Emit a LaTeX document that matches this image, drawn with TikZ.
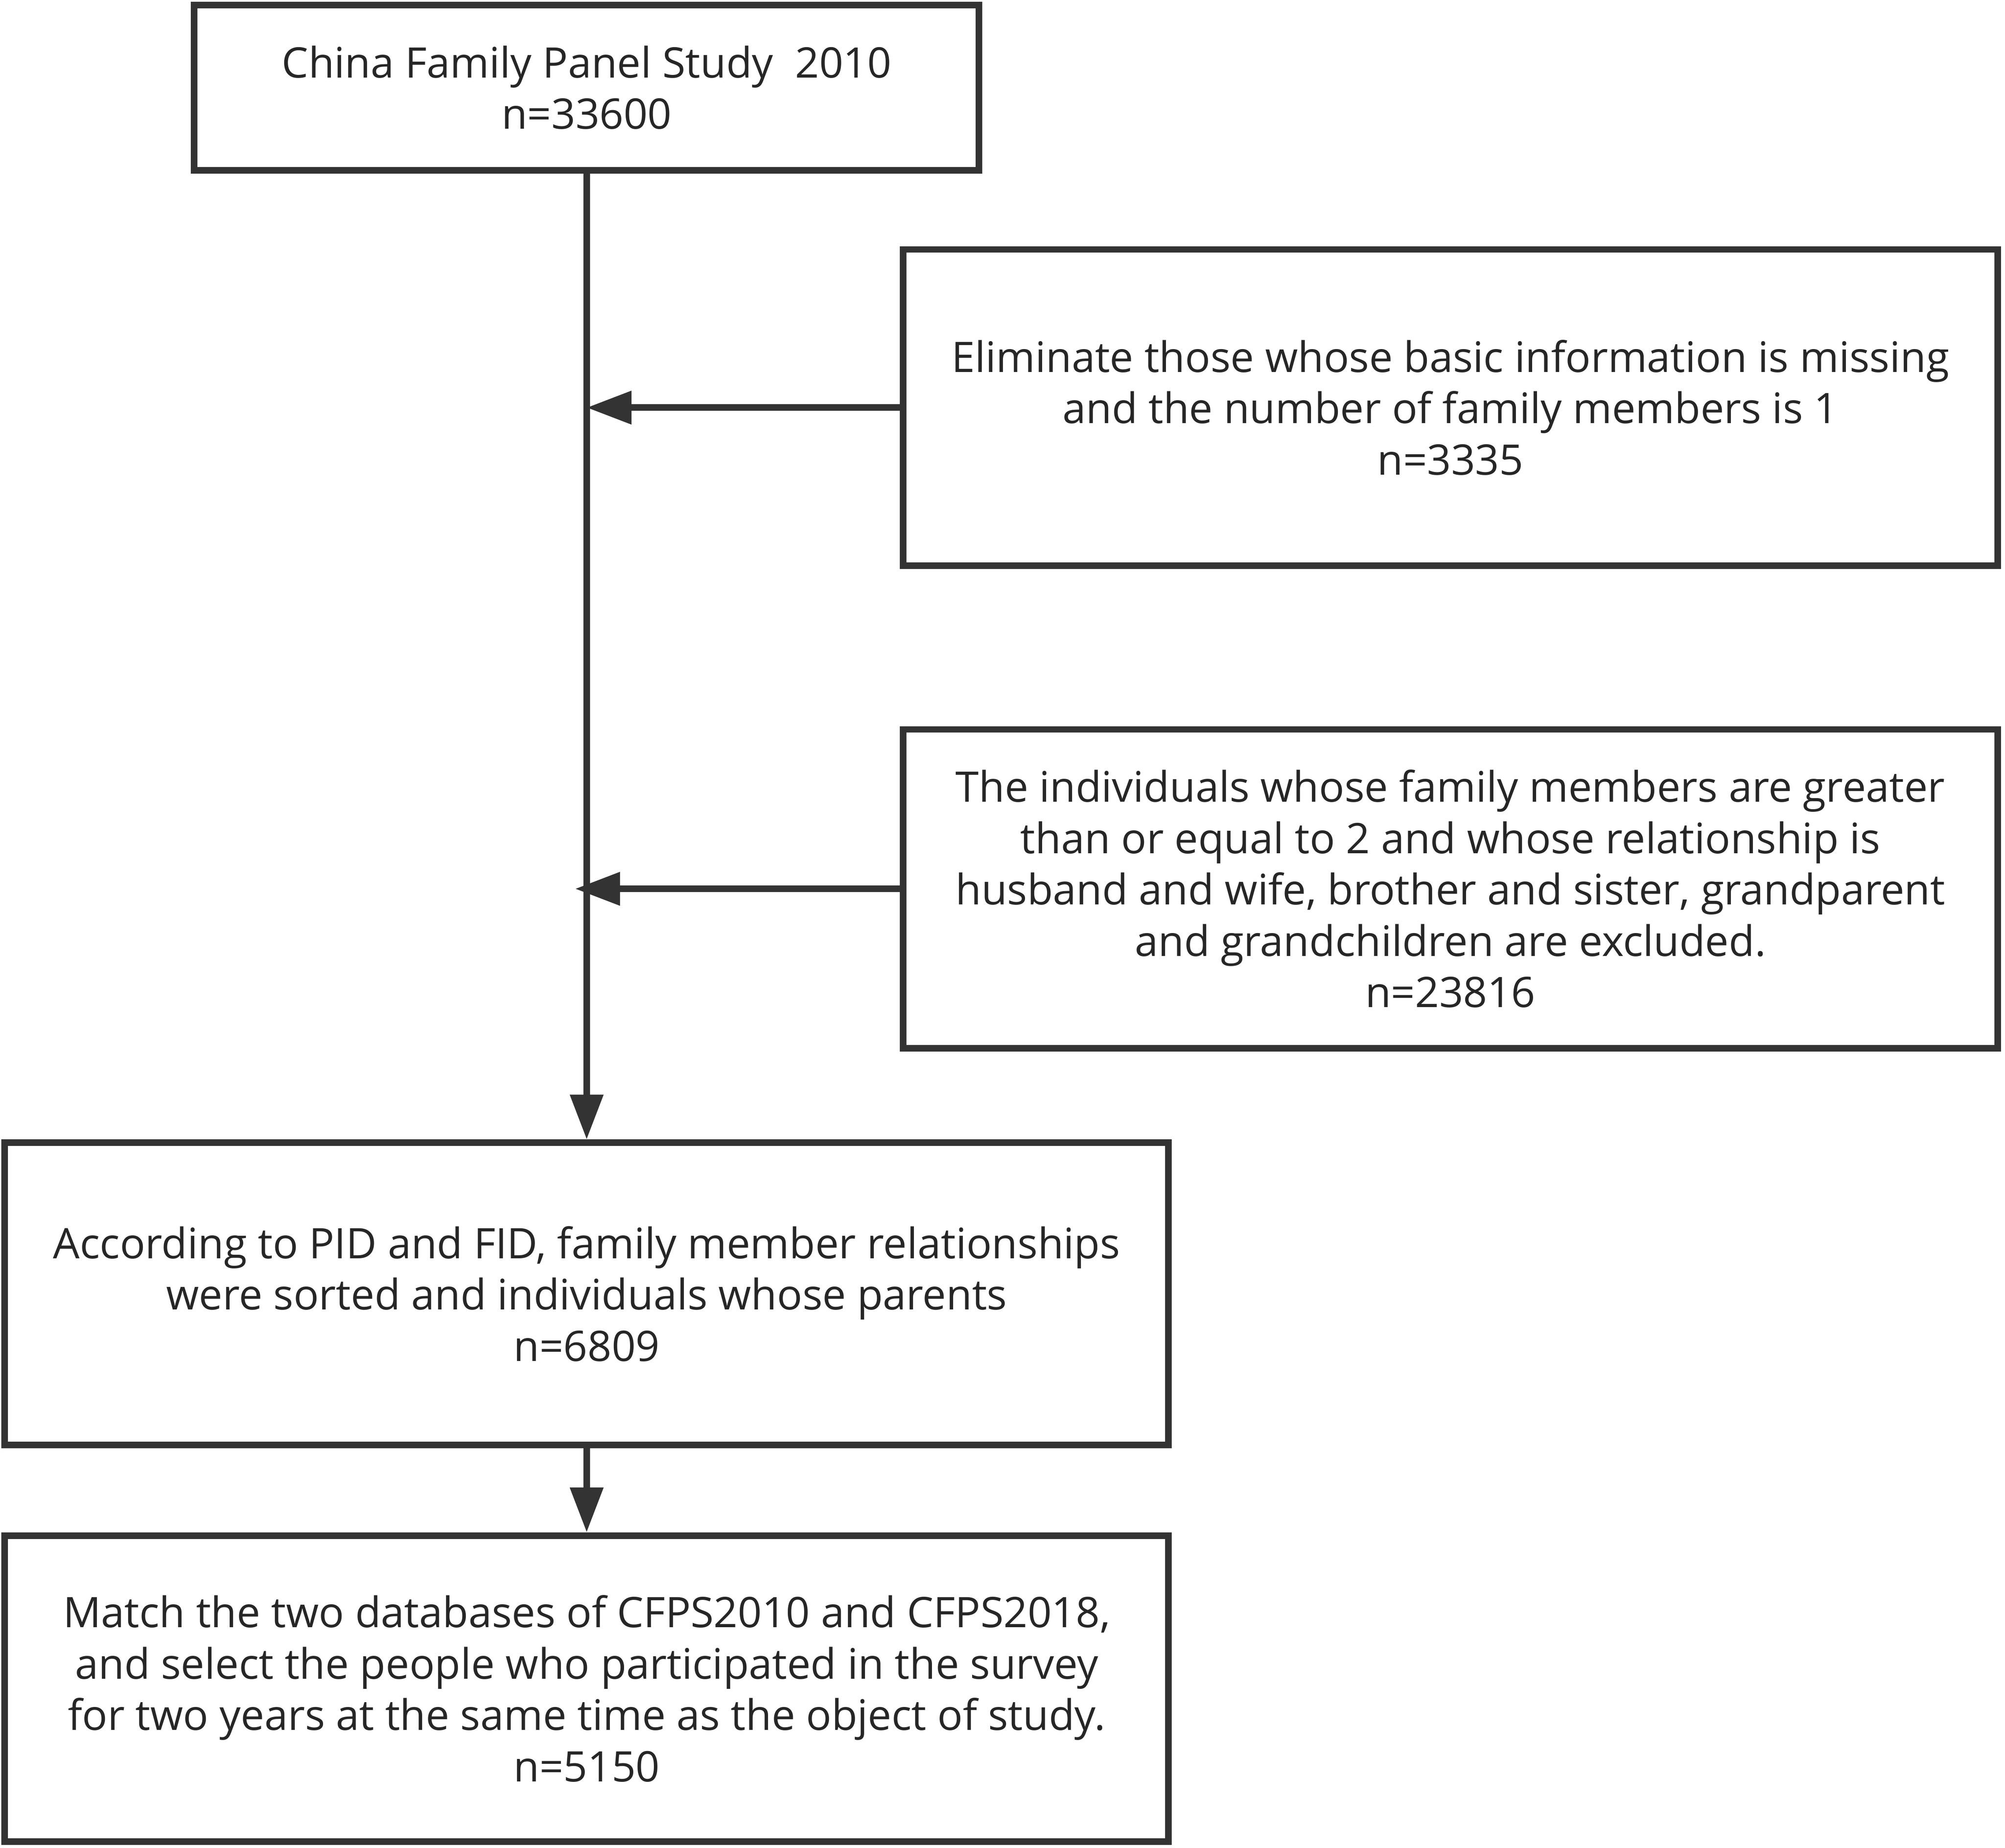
\documentclass[tikz,border=0pt]{standalone}
\usepackage{fontspec}
\setmainfont{Open Sans}
\usetikzlibrary{arrows.meta}
\definecolor{linegray}{HTML}{333333}
\begin{document}
\begin{tikzpicture}[x=0.01cm,y=-0.01cm,
    box/.style={draw=linegray, line width=1.45pt, align=center, inner sep=0pt,
      font=\fontsize{9.35}{11.4}\selectfont, text=black!85},
    flow/.style={draw=linegray, line width=1.45pt,
      -{Triangle[length=0.35cm,width=0.25cm]}}]

      \useasboundingbox (0,0) rectangle (1567,1444);

      % Source sample
      \node[box, minimum width=6.13cm, minimum height=1.29cm] (start) at (458.5,68.5)
        {China Family Panel Study\ \ 2010\\n=33600};

      % Exclusions
      \node[box, minimum width=8.55cm, minimum height=2.47cm] (drop1) at (1133.5,318.5)
        {Eliminate those whose basic information is missing\\and the number of family members is 1\\n=3335};
      \node[box, minimum width=8.55cm, minimum height=2.49cm] (drop2) at (1133.5,694.5)
        {The individuals whose family members are greater\\than or equal to 2 and whose relationship is\\husband and wife, brother and sister, grandparent\\and grandchildren are excluded.\\n=23816};

      % Sorting and matching
      \node[box, minimum width=9.09cm, minimum height=2.36cm] (sort) at (458.5,1011)
        {According to PID and FID, family member relationships\\were sorted and individuals whose parents\\n=6809};
      \node[box, minimum width=9.09cm, minimum height=2.39cm] (final) at (458.5,1319.5)
        {Match the two databases of CFPS2010 and CFPS2018,\\and select the people who participated in the survey\\for two years at the same time as the object of study.\\n=5150};

      % Connectors
      \coordinate (j1) at (start.south |- drop1.west);
      \coordinate (j2) at ([xshift=-0.09cm]start.south |- drop2.west);
      \draw[flow] (start) -- (sort);
      \draw[flow] (drop1) -- (j1);
      \draw[flow] (drop2) -- (j2);
      \draw[flow] (sort) -- (final);
    \end{tikzpicture}
\end{document}
